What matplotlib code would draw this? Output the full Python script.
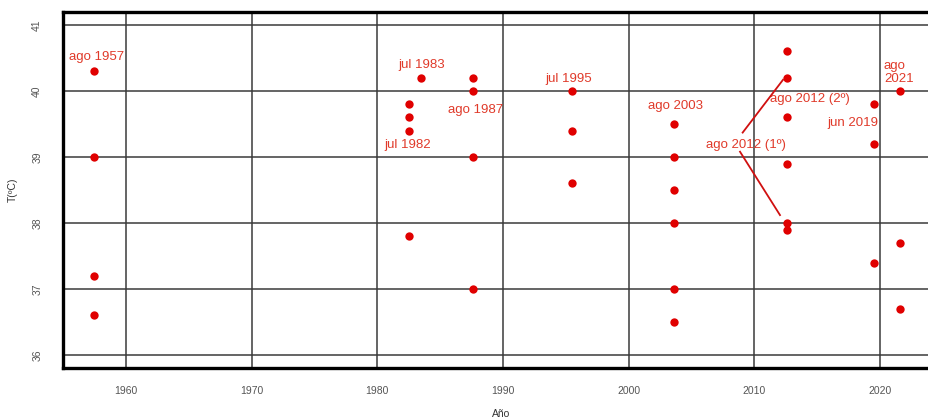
import matplotlib
matplotlib.use("Agg")
from matplotlib import pyplot as plt

# Annual maximum temperatures (one column of points per year)
years_1957 = [1957.5] * 4
temps_1957 = [40.3, 39.0, 37.2, 36.6]
years_1982 = [1982.5] * 4
temps_1982 = [39.8, 39.6, 39.4, 37.8]
years_1983 = [1983.5]
temps_1983 = [40.2]
years_1987 = [1987.6] * 4
temps_1987 = [40.2, 40.0, 39.0, 37.0]
years_1995 = [1995.5] * 3
temps_1995 = [40.0, 39.4, 38.6]
years_2003 = [2003.6] * 6
temps_2003 = [39.5, 39.0, 38.5, 38.0, 37.0, 36.5]
years_2012 = [2012.6] * 6
temps_2012 = [40.6, 40.2, 39.6, 38.9, 38.0, 37.9]
years_2019 = [2019.5] * 3
temps_2019 = [39.8, 39.2, 37.4]
years_2021 = [2021.6] * 3
temps_2021 = [40.0, 37.7, 36.7]

# Event labels
labels = ["ago 1957", "jul 1983", "jul 1982", "ago 1987", "jul 1995",
          "ago 2003", "ago 2012 (2º)", "ago 2012 (1º)", "jun 2019"]
label_x = [1957.7, 1983.5, 1982.4, 1987.8, 1995.25, 2003.7, 2014.45, 2009.3, 2017.8]
label_y = [40.52, 40.39, 39.18, 39.71, 40.18, 39.77, 39.88, 39.18, 39.52]

# Leader lines from "ago 2012 (1º)" label to its points
leader_x = [[2009.07, 2012.28], [2008.86, 2012.04]]
leader_y = [[39.37, 40.17], [39.08, 38.12]]

year_ticks = [1960, 1970, 1980, 1990, 2000, 2010, 2020]
temp_ticks = [36, 37, 38, 39, 40, 41]

plt.rcParams['font.family'] = ['Liberation Sans', 'DejaVu Sans']

fig = plt.figure(figsize=(9.29, 4.19), dpi=100)
ax = fig.add_axes([63 / 929, (419 - 368) / 419, (940 - 63) / 929, (368 - 12) / 419])

ax.set_xlim(1955, 1955 + (940 - 63) / 12.57)
ax.set_ylim(35.803, 41.197)

ax.set_xticks(year_ticks)
ax.set_yticks(temp_ticks)
ax.grid(True, color='#3a3a3a', linewidth=1.1)
ax.set_axisbelow(True)

for side in ['left', 'top', 'bottom']:
    ax.spines[side].set_linewidth(2.4)
    ax.spines[side].set_color('black')
ax.spines['right'].set_visible(False)

ax.tick_params(axis='both', length=0, labelsize=7.5, labelcolor='#555555')
ax.tick_params(axis='x', pad=13)
ax.tick_params(axis='y', pad=15)
for t in ax.get_yticklabels():
    t.set_rotation(90)
    t.set_va('center')

ax.set_xlabel("Año", fontsize=7.5, color='#333333', labelpad=9)
ax.set_ylabel("T(ºC)", fontsize=7.5, color='#333333', labelpad=10)

dot_color = '#e00000'
groups = [(years_1957, temps_1957), (years_1982, temps_1982), (years_1983, temps_1983),
          (years_1987, temps_1987), (years_1995, temps_1995), (years_2003, temps_2003),
          (years_2012, temps_2012), (years_2019, temps_2019), (years_2021, temps_2021)]
for xs, ys in groups:
    ax.scatter(xs, ys, s=36, color=dot_color, zorder=3, linewidths=0)

for xs, ys in zip(leader_x, leader_y):
    ax.plot(xs, ys, color='#d01010', linewidth=1.3, zorder=3)

text_color = '#e03a2a'
for lab, x, y in zip(labels, label_x, label_y):
    ax.text(x, y, lab, color=text_color, fontsize=9.5, ha='center', va='center', zorder=4)

ax.text(2020.3, 40.28, "ago\n2021", color=text_color, fontsize=9.5, ha='left',
        va='center', linespacing=1.05, zorder=4)

fig.savefig("out.png", dpi=100)
